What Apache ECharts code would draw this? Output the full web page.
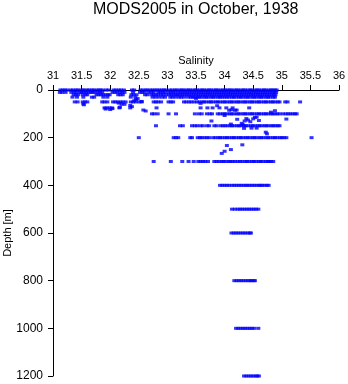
<!DOCTYPE html>
<html>
<head>
<meta charset="utf-8">
<script src="https://cdn.jsdelivr.net/npm/echarts@6/dist/echarts.min.js"></script>
<style>
  html, body { margin: 0; padding: 0; background: #fff; }
  #chart { width: 348px; height: 384px; }
</style>
</head>
<body>
<div id="chart"></div>
<script>
// Salinity tick labels along the top axis and depth ticks on the left
const salinityTicks = ['31', '31.5', '32', '32.5', '33', '33.5', '34', '34.5', '35', '35.5', '36'];
const depthTicks = [0, 200, 400, 600, 800, 1000, 1200];

// Salinity readings at each standard depth (m)
const sal0 = [31.13, 31.17, 31.21, 31.25, 31.31, 31.35, 31.40, 31.43, 31.48, 31.52, 31.55, 31.60, 31.63, 31.68, 31.71, 31.76, 31.80, 31.83, 31.87, 31.93, 31.97, 32.06, 32.10, 32.15, 32.19, 32.24, 32.38, 32.42, 32.53, 32.57, 32.62, 32.65, 32.70, 32.74, 32.78, 32.82, 32.86, 32.90, 32.94, 32.97, 33.04, 33.08, 33.13, 33.16, 33.21, 33.25, 33.28, 33.33, 33.37, 33.40, 33.45, 33.49, 33.52, 33.57, 33.61, 33.64, 33.69, 33.73, 33.76, 33.81, 33.85, 33.88, 33.93, 33.97, 34.01, 34.05, 34.09, 34.12, 34.17, 34.21, 34.24, 34.29, 34.33, 34.36, 34.41, 34.45, 34.48, 34.53, 34.57, 34.60, 34.65, 34.69, 34.72, 34.77, 34.81, 34.84, 34.88, 34.91];
const sal10 = [31.12, 31.16, 31.22, 31.32, 31.37, 31.41, 31.47, 31.50, 31.54, 31.58, 31.62, 31.66, 31.69, 31.73, 31.78, 31.82, 31.86, 32.04, 32.08, 32.12, 32.17, 32.21, 32.25, 32.40, 32.52, 32.56, 32.60, 32.67, 32.72, 32.76, 32.84, 32.88, 32.92, 32.96, 33.02, 33.06, 33.10, 33.14, 33.19, 33.23, 33.27, 33.31, 33.35, 33.39, 33.43, 33.47, 33.51, 33.55, 33.59, 33.63, 33.67, 33.71, 33.75, 33.79, 33.83, 33.87, 33.91, 33.95, 33.99, 34.03, 34.07, 34.11, 34.15, 34.19, 34.23, 34.27, 34.31, 34.35, 34.39, 34.43, 34.47, 34.51, 34.55, 34.59, 34.63, 34.67, 34.71, 34.75, 34.79, 34.83, 34.87, 34.90];
const sal20 = [31.36, 31.40, 31.44, 31.52, 31.57, 31.60, 31.76, 31.80, 31.84, 31.88, 31.92, 31.96, 31.99, 32.14, 32.18, 32.22, 32.37, 32.41, 32.46, 32.61, 32.65, 32.72, 32.76, 32.80, 32.84, 32.89, 32.93, 32.98, 33.03, 33.07, 33.11, 33.15, 33.18, 33.22, 33.26, 33.30, 33.34, 33.38, 33.42, 33.46, 33.50, 33.54, 33.58, 33.62, 33.66, 33.70, 33.74, 33.78, 33.82, 33.86, 33.90, 33.94, 33.98, 34.02, 34.06, 34.10, 34.14, 34.18, 34.22, 34.26, 34.30, 34.34, 34.38, 34.42, 34.46, 34.50, 34.54, 34.58, 34.62, 34.66, 34.70, 34.74, 34.78, 34.82, 34.86, 34.89];
const sal30 = [31.34, 31.42, 31.53, 31.68, 31.72, 31.88, 31.95, 32.36, 32.44, 32.74, 32.79, 32.85, 32.91, 32.96, 33.05, 33.09, 33.14, 33.20, 33.24, 33.29, 33.36, 33.41, 33.44, 33.48, 33.53, 33.56, 33.60, 33.65, 33.68, 33.72, 33.77, 33.80, 33.84, 33.89, 33.92, 33.96, 34.00, 34.04, 34.08, 34.13, 34.16, 34.20, 34.25, 34.28, 34.32, 34.37, 34.40, 34.44, 34.49, 34.52, 34.56, 34.61, 34.64, 34.68, 34.73, 34.76, 34.80, 34.85, 34.88];
const sal50 = [31.38, 31.43, 31.52, 31.56, 31.60, 31.86, 31.90, 31.95, 32.05, 32.09, 32.13, 32.18, 32.22, 32.27, 32.36, 32.40, 32.45, 32.51, 32.55, 32.76, 32.80, 32.84, 32.89, 33.02, 33.06, 33.10, 33.29, 33.33, 33.38, 33.42, 33.47, 33.52, 33.56, 33.61, 33.64, 33.68, 33.73, 33.76, 33.80, 33.85, 33.88, 33.92, 33.97, 34.00, 34.04, 34.09, 34.12, 34.16, 34.21, 34.24, 34.28, 34.33, 34.36, 34.40, 34.45, 34.48, 34.52, 34.57, 34.60, 34.64, 34.69, 34.72, 34.76, 34.81, 34.84, 34.88, 34.93, 34.96, 35.06, 35.10, 35.32];
const sal75 = [31.90, 31.94, 31.99, 32.03, 32.16, 32.35, 32.81, 33.58, 33.70, 33.79, 33.91, 34.03, 34.14, 34.43];
const sal100 = [32.73, 32.77, 32.83, 33.02, 33.15, 33.48, 33.55, 33.60, 33.69, 33.74, 33.78, 33.88, 33.92, 33.97, 34.00, 34.04, 34.09, 34.12, 34.16, 34.21, 34.24, 34.28, 34.33, 34.36, 34.40, 34.45, 34.48, 34.52, 34.57, 34.60, 34.64, 34.69, 34.72, 34.76, 34.81, 34.84, 34.88, 34.92, 34.96, 35.02, 35.07, 35.11, 35.15, 35.19, 35.23, 35.26];
const sal150 = [32.80, 33.22, 33.27, 33.43, 33.48, 33.52, 33.58, 33.62, 33.69, 33.73, 33.82, 33.86, 33.93, 33.97, 34.01, 34.05, 34.10, 34.13, 34.17, 34.22, 34.25, 34.29, 34.34, 34.37, 34.41, 34.46, 34.49, 34.53, 34.58, 34.61, 34.65, 34.70, 34.73, 34.77, 34.82, 34.85, 34.89, 34.93, 34.96];
const sal200 = [32.50, 33.11, 33.15, 33.19, 33.40, 33.43, 33.53, 33.57, 33.60, 33.65, 33.69, 33.73, 33.80, 33.84, 33.89, 33.92, 33.96, 34.01, 34.04, 34.08, 34.13, 34.16, 34.20, 34.25, 34.28, 34.32, 34.37, 34.40, 34.44, 34.49, 34.52, 34.56, 34.61, 34.64, 34.68, 34.73, 34.76, 34.80, 34.85, 34.88, 34.92, 34.97, 35.00, 35.04, 35.08, 35.52];
const sal300 = [32.76, 33.06, 33.26, 33.37, 33.46, 33.54, 33.58, 33.62, 33.66, 33.71, 33.82, 33.86, 33.90, 33.95, 33.98, 34.02, 34.07, 34.10, 34.14, 34.18, 34.23, 34.27, 34.31, 34.36, 34.39, 34.43, 34.48, 34.51, 34.55, 34.60, 34.63, 34.67, 34.72, 34.75, 34.78, 34.81, 34.85];
const sal400 = [33.92, 33.96, 34.00, 34.04, 34.08, 34.13, 34.17, 34.21, 34.25, 34.29, 34.33, 34.37, 34.40, 34.44, 34.48, 34.52, 34.56, 34.60, 34.63, 34.66, 34.70, 34.74, 34.77];
const sal500 = [34.13, 34.18, 34.23, 34.27, 34.31, 34.35, 34.39, 34.43, 34.47, 34.51, 34.55, 34.59];
const sal600 = [34.12, 34.16, 34.20, 34.24, 34.28, 34.32, 34.36, 34.40, 34.44, 34.46];
const sal800 = [34.17, 34.21, 34.25, 34.29, 34.33, 34.37, 34.41, 34.45, 34.47, 34.51, 34.53];
const sal1000 = [34.20, 34.24, 34.28, 34.32, 34.36, 34.40, 34.44, 34.48, 34.52, 34.59];
const sal1200 = [34.34, 34.38, 34.42, 34.46, 34.50, 34.54, 34.57, 34.60];

const standardDepths = [0, 10, 20, 30, 50, 75, 100, 150, 200, 300, 400, 500, 600, 800, 1000, 1200];
const salinityByDepth = [sal0, sal10, sal20, sal30, sal50, sal75, sal100, sal150, sal200, sal300, sal400, sal500, sal600, sal800, sal1000, sal1200];

// Observations at non-standard depths: [salinity, depth]
const otherObs = [
  [31.54, 62], [32.20, 60], [31.53, 58], [32.35, 65], [32.38, 70], [32.25, 60],
  [32.17, 72], [32.15, 55], [32.58, 84], [32.62, 88], [32.45, 40], [32.48, 36],
  [32.42, 45], [31.92, 80], [32.00, 82], [32.04, 78], [32.55, 48],
  [33.50, 35], [33.58, 56], [33.87, 66], [34.08, 85], [34.12, 83], [34.18, 85],
  [34.21, 84], [34.81, 93], [34.88, 87], [34.00, 107], [35.08, 122], [33.77, 130],
  [34.22, 123], [34.41, 126], [34.50, 121], [34.56, 114], [34.60, 128], [34.35, 130],
  [34.38, 120], [34.45, 133], [34.30, 140], [34.32, 146], [34.47, 160], [34.56, 160],
  [34.34, 161], [34.11, 143], [34.72, 177], [34.74, 184], [34.04, 233], [34.31, 230],
  [34.11, 250], [34.00, 257], [33.95, 266], [34.53, 115]
];

const points = [];
standardDepths.forEach((d, i) => {
  salinityByDepth[i].forEach(s => points.push([s, d]));
});
otherObs.forEach(p => points.push(p));

const FONT = 'Liberation Sans, Arial, Helvetica, sans-serif';
const chart = echarts.init(document.getElementById('chart'), null, { renderer: 'canvas' });

chart.setOption({
  animation: false,
  backgroundColor: '#ffffff',
  title: {
    text: 'MODS2005 in October, 1938',
    left: 93,
    top: 2,
    padding: 0,
    textStyle: { fontFamily: FONT, fontSize: 16, fontWeight: 'normal', color: '#000' }
  },
  grid: { left: 53, right: 9, top: 90, bottom: 8, containLabel: false, outerBoundsMode: 'none' },
  xAxis: {
    type: 'value',
    position: 'top',
    min: 31, max: 36, interval: 0.5,
    name: 'Salinity',
    nameLocation: 'middle',
    nameGap: 24,
    nameMoveOverlap: false,
    nameTextStyle: { fontFamily: FONT, fontSize: 11, color: '#000' },
    axisLine: { show: true, onZero: false, lineStyle: { color: '#000', width: 1 } },
    axisTick: { show: true, length: 5, lineStyle: { color: '#000' } },
    axisLabel: {
      fontFamily: FONT, fontSize: 11, color: '#000', margin: 9,
      formatter: (v) => salinityTicks[Math.round((v - 31) / 0.5)]
    },
    splitLine: { show: false }
  },
  yAxis: {
    type: 'value',
    inverse: true,
    min: 0, max: 1200, interval: 200,
    name: 'Depth [m]',
    nameLocation: 'middle',
    nameGap: 40,
    nameRotate: 90,
    nameMoveOverlap: false,
    nameTextStyle: { fontFamily: FONT, fontSize: 11, color: '#000' },
    axisLine: { show: true, onZero: false, lineStyle: { color: '#000', width: 1 } },
    axisTick: { show: true, length: 5, lineStyle: { color: '#000' } },
    axisLabel: {
      fontFamily: FONT, fontSize: 12, color: '#000', margin: 10,
      formatter: (v) => depthTicks.indexOf(v) >= 0 ? String(v) : ''
    },
    splitLine: { show: false }
  },
  series: [{
    type: 'scatter',
    data: points,
    symbol: 'rect',
    symbolSize: [4, 3],
    clip: false,
    itemStyle: { color: '#0000ff' },
    z: 3
  }]
});
</script>
</body>
</html>
